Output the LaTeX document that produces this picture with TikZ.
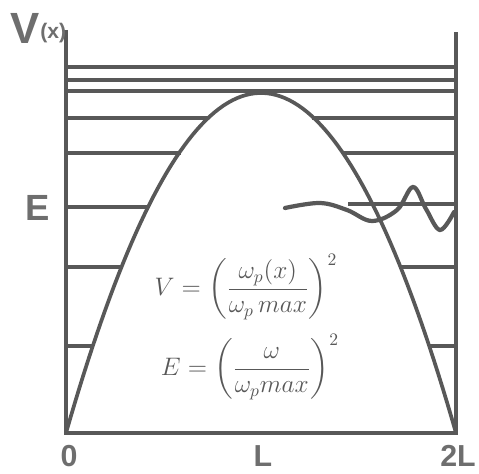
\documentclass[tikz,border=0pt]{standalone}
\usepackage{fontspec}
\setmainfont{Liberation Sans}
\usepackage{amsmath}
\usetikzlibrary{positioning}
\definecolor{PenGray}{RGB}{88,88,88}
\definecolor{InkGray}{RGB}{110,110,110}

\begin{document}
\begin{tikzpicture}[
  x=0.02cm, y=-0.02cm,
  wall/.style={draw=PenGray, line width=2pt},
  level/.style={draw=PenGray, line width=1.9pt},
  barrier/.style={draw=PenGray, line width=2.1pt},
  wave/.style={draw=PenGray, line width=2.4pt, line cap=round},
  axlabel/.style={text=InkGray, font=\LARGE\bfseries, inner sep=0pt},
  eqn/.style={text=PenGray, font=\Large, inner sep=0pt}
]
\useasboundingbox (0,0) rectangle (479,473);

% --- corners of the box
\coordinate (tl) at (66,30);
\coordinate (tr) at (456,32);
\coordinate (bl) at (66,433);
\coordinate (br) at (456,433);

% --- walls and floor
\draw[wall] (tl) -- (bl) -- (br) -- (tr);

% --- energy levels above the barrier
\draw[level] (66,67) -- (456,67);
\draw[level] (66,80) -- (456,80);
\draw[level] (66,91) -- (456,91);

% --- energy levels cut by the barrier
\draw[level] (66,118) -- (209,118);
\draw[level] (312,118) -- (456,118);
\draw[level] (66,153) -- (181,153);
\draw[level] (343,153) -- (456,153);
\draw[level] (66,207) -- (147,207);
\draw[level] (348,204) -- (456,204);
\draw[level] (66,267) -- (121,267);
\draw[level] (400,267) -- (456,267);
\draw[level] (66,346) -- (93,346);
\draw[level] (429,346) -- (456,346);

% --- barrier V(x)
\draw[barrier] plot[domain=66:456, samples=90] (\x, {433-340*(1-((\x-261)/195)^2)});

% --- wave at level E
\draw[wave] plot[smooth, tension=0.6] coordinates {
  (285,208) (320,203) (347,210) (372,221) (397,210) (413,187)
  (426,209) (440,230) (454,212)};

% --- labels
\node[axlabel, font=\Huge\bfseries] (vx) at (25,28) {V};
\node[axlabel, font=\large\bfseries, right=0pt of vx.south east, anchor=south west] (vxarg) {(x)};
\node[axlabel, font=\huge\bfseries] (elab) at (38,208) {E};
\node[axlabel] (zero) at (69,456) {0};
\node[axlabel] (ell)  at (263,456) {L};
\node[axlabel] (twol) at (458,456) {2L};

% --- formulas
\node[eqn] (veq) at (246,287)
  {$V=\left(\dfrac{\omega_p(x)}{\omega_p\,max}\right)^{2}$};
\node[eqn] (eeq) at (250,367)
  {$E=\left(\dfrac{\omega}{\omega_p max}\right)^{2}$};

\end{tikzpicture}
\end{document}
